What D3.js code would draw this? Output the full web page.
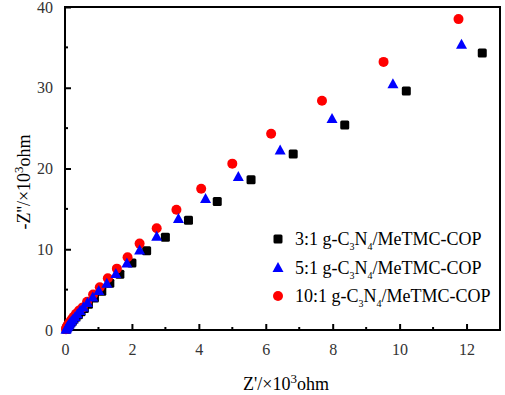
<!DOCTYPE html>
<html>
<head>
<meta charset="utf-8">
<script src="https://cdn.jsdelivr.net/npm/d3@7"></script>
<style>
  body { margin: 0; background: #fff; }
  svg text { font-family: "Times New Roman", "Liberation Serif", "DejaVu Serif", serif; }
</style>
</head>
<body>
<div id="chart"></div>
<script>
// Data (Z' and -Z'' in 10^3 ohm)
const s31X = [0.04, 0.06, 0.08, 0.11, 0.14, 0.18, 0.22, 0.27, 0.33, 0.40, 0.48, 0.58, 0.70, 0.88, 1.10, 1.34, 1.64, 2.00, 2.44, 3.00, 3.69, 4.55, 5.56, 6.82, 8.36, 10.2, 12.47];
const s31Y = [0.10, 0.25, 0.40, 0.55, 0.70, 0.90, 1.10, 1.35, 1.60, 1.90, 2.25, 2.65, 3.20, 3.95, 4.80, 5.80, 6.90, 8.30, 9.80, 11.5, 13.6, 15.9, 18.6, 21.8, 25.4, 29.6, 34.3];
const s51X = [0.03, 0.05, 0.07, 0.09, 0.12, 0.15, 0.19, 0.24, 0.30, 0.37, 0.45, 0.55, 0.67, 0.83, 1.01, 1.25, 1.52, 1.85, 2.23, 2.74, 3.39, 4.20, 5.18, 6.43, 7.98, 9.80, 11.85];
const s51Y = [0.10, 0.25, 0.40, 0.55, 0.70, 0.90, 1.10, 1.35, 1.65, 2.00, 2.40, 2.85, 3.40, 4.10, 4.90, 5.80, 7.00, 8.30, 9.90, 11.6, 13.8, 16.3, 19.0, 22.3, 26.2, 30.5, 35.4];
const s101X = [0.03, 0.04, 0.06, 0.08, 0.10, 0.13, 0.17, 0.21, 0.26, 0.33, 0.42, 0.53, 0.66, 0.84, 1.04, 1.28, 1.55, 1.87, 2.23, 2.74, 3.33, 4.07, 5.00, 6.16, 7.68, 9.52, 11.76];
const s101Y = [0.10, 0.25, 0.40, 0.55, 0.70, 0.90, 1.10, 1.35, 1.65, 2.00, 2.40, 2.80, 3.50, 4.40, 5.30, 6.40, 7.60, 9.00, 10.7, 12.6, 14.9, 17.5, 20.6, 24.3, 28.4, 33.2, 38.5];
const xTicks = [0, 2, 4, 6, 8, 10, 12];
const yTicks = [0, 10, 20, 30, 40];
const legendNames = ['3:1', '5:1', '10:1'];

const series = [
  { name: legendNames[0], xs: s31X, ys: s31Y, color: '#000000', shape: 'square' },
  { name: legendNames[1], xs: s51X, ys: s51Y, color: '#0000ff', shape: 'triangle' },
  { name: legendNames[2], xs: s101X, ys: s101Y, color: '#ff0000', shape: 'circle' }
];
// drawing order: squares, circles, triangles on top
const drawOrder = [0, 2, 1];

const W = 505, H = 395;
const margin = { top: 7, right: 5, bottom: 65, left: 65 };
const width = W - margin.left - margin.right;
const height = H - margin.top - margin.bottom;

const svg = d3.select('#chart').append('svg')
  .attr('width', W).attr('height', H);
const g = svg.append('g')
  .attr('transform', `translate(${margin.left},${margin.top})`);

const x = d3.scaleLinear().domain([0, 13]).range([0, width]);
const y = d3.scaleLinear().domain([0, 40]).range([height, 0]);

// minor ticks
const xMinor = d3.range(1, 13, 2);
const yMinor = d3.range(5, 40, 10);

g.selectAll('.xminor').data(xMinor).enter().append('line')
  .attr('x1', d => x(d)).attr('x2', d => x(d))
  .attr('y1', height).attr('y2', height - 3)
  .attr('stroke', '#000').attr('stroke-width', 2);
g.selectAll('.yminor').data(yMinor).enter().append('line')
  .attr('x1', 0).attr('x2', 3)
  .attr('y1', d => y(d)).attr('y2', d => y(d))
  .attr('stroke', '#000').attr('stroke-width', 2);

// Axes
const xAxis = g.append('g')
  .attr('transform', `translate(0,${height})`)
  .call(d3.axisBottom(x).tickValues(xTicks).tickSizeInner(-6).tickSizeOuter(0).tickPadding(14));
const yAxis = g.append('g')
  .call(d3.axisLeft(y).tickValues(yTicks).tickSizeInner(-6).tickSizeOuter(0).tickPadding(12));

[xAxis, yAxis].forEach(a => {
  a.attr('font-family', null);
  a.select('.domain').remove();
  a.selectAll('line').attr('stroke', '#000').attr('stroke-width', 2);
  a.selectAll('text')
    .attr('fill', '#333')
    .style('font-size', '16px');
});

// frame
g.append('rect')
  .attr('x', 0).attr('y', 0)
  .attr('width', width).attr('height', height)
  .attr('fill', 'none').attr('stroke', '#000').attr('stroke-width', 2);

// Markers
function drawMarker(sel, shape, color) {
  if (shape === 'square') {
    sel.append('rect').attr('x', -4.5).attr('y', -4.5).attr('width', 9).attr('height', 9)
      .attr('rx', 1.5).attr('fill', color);
  } else if (shape === 'triangle') {
    sel.append('path').attr('d', 'M0,-5.5L5.5,4.5L-5.5,4.5Z').attr('fill', color);
  } else {
    sel.append('circle').attr('r', 5).attr('fill', color);
  }
}

drawOrder.forEach(k => {
  const s = series[k];
  const pts = s.xs.map((v, i) => [v, s.ys[i]]);
  g.append('g').selectAll('g').data(pts).enter().append('g')
    .attr('transform', d => `translate(${x(d[0])},${y(d[1])})`)
    .each(function () { drawMarker(d3.select(this), s.shape, s.color); });
});

// Legend
const legend = svg.append('g').attr('transform', 'translate(278,239)');
series.forEach((s, i) => {
  const row = legend.append('g').attr('transform', `translate(0,${i * 28.5})`);
  drawMarker(row, s.shape, s.color);
  const t = row.append('text').attr('x', 17).attr('y', 6)
    .attr('fill', '#000').style('font-size', '18px');
  t.append('tspan').text(s.name + ' g-C');
  t.append('tspan').attr('dy', 5).style('font-size', '10px').text('3');
  t.append('tspan').attr('dy', -5).text('N');
  t.append('tspan').attr('dy', 5).style('font-size', '10px').text('4');
  t.append('tspan').attr('dy', -5).text('/MeTMC-COP');
});

// Axis titles
const xt = svg.append('text')
  .attr('x', 286).attr('y', 390)
  .attr('text-anchor', 'middle')
  .style('font-size', '18px');
xt.append('tspan').text("Z'/\u00d710");
xt.append('tspan').attr('dy', -7).style('font-size', '13px').text('3');
xt.append('tspan').attr('dy', 7).text('ohm');

const yt = svg.append('text')
  .attr('transform', 'translate(30,182) rotate(-90)')
  .attr('text-anchor', 'middle')
  .style('font-size', '18px');
yt.append('tspan').text("-Z''/\u00d710");
yt.append('tspan').attr('dy', -7).style('font-size', '13px').text('3');
yt.append('tspan').attr('dy', 7).text('ohm');
</script>
</body>
</html>
